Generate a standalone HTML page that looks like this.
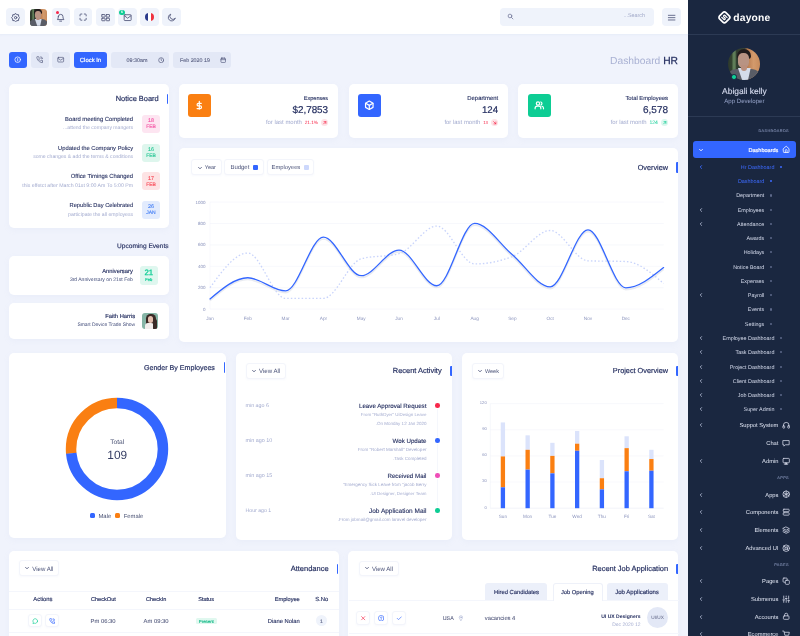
<!DOCTYPE html>
<html lang="en">
<head>
<meta charset="utf-8">
<title>Dayone - HR Dashboard</title>
<style>
*{box-sizing:border-box;margin:0;padding:0}
html,body{width:800px;height:636px;overflow:hidden;background:#f0f3fc;font-family:"Liberation Sans",sans-serif;color:#263061;text-rendering:geometricPrecision}
.abs,i,.t,svg{position:absolute}
i{display:block}
#app{position:relative;width:800px;height:636px;overflow:hidden}
.card{position:absolute;background:#fff;border-radius:5px;box-shadow:0 2px 6px rgba(160,175,220,.08)}
.hbtn{position:absolute;top:8px;width:18.5px;height:18px;border-radius:4px;background:#eff3fb}
.hbtn svg{left:4.6px;top:4.6px;width:9.3px;height:9.3px;stroke:#555b7e;fill:none;stroke-width:2.3;stroke-linecap:round;stroke-linejoin:round}
.tbtn{position:absolute;top:51.8px;height:16.5px;border-radius:3px;background:#e3e8f6}
.tbtn svg{width:7.4px;height:7.4px;stroke:#555b7e;fill:none;stroke-width:2.2;stroke-linecap:round;stroke-linejoin:round}
.t{white-space:nowrap;line-height:1}
.bar{position:absolute;width:1.7px;height:10.5px;background:#3366ff;border-radius:1px 0 0 1px}
.ico{width:8.4px;height:8.4px;fill:none;stroke:#d6dbea;stroke-width:2.2;stroke-linecap:round;stroke-linejoin:round}
.ob{position:absolute;background:#fff;border:.5px solid #f3f5fb;border-radius:3px;box-shadow:0 1px 2px rgba(160,175,220,.07)}
.chv{width:4px;height:4px;fill:none;stroke-width:2.3;stroke-linecap:round;stroke-linejoin:round}
.hl{position:absolute;height:.5px;background:#f4f6fc}
</style>
</head>
<body>
<div id="app">
<!-- HEADER -->
<div class="abs" id="header" style="left:0;top:0;width:688px;height:33.8px;background:#fff;box-shadow:0 1px 2px rgba(200,210,235,.25)">
<div class="hbtn" style="left:6px"><svg viewBox="0 0 24 24" style="stroke-width:2.5"><circle cx="12" cy="12" r="3"/><path d="M12.0 1.4L15.2 4.2L19.5 4.5L19.8 8.8L22.6 12.0L19.8 15.2L19.5 19.5L15.2 19.8L12.0 22.6L8.8 19.8L4.5 19.5L4.2 15.2L1.4 12.0L4.2 8.8L4.5 4.5L8.8 4.2z"/></svg></div>
<div class="abs" style="left:29.7px;top:8.5px;width:17px;height:17px;border-radius:3.5px;overflow:hidden;background:linear-gradient(90deg,#2c382d 0%,#33422f 12%,#5f7d58 16%,#5f7d58 22%,#2e3a2d 27%,#3a4436 52%,#b97c50 60%,#d39a6c 80%,#c78b5c 100%)">
<i style="left:4.46px;top:0.43px;width:7.65px;height:5.31px;border-radius:3.72px 3.72px 1.59px 1.59px;background:#211b1c"></i>
<i style="left:5.31px;top:2.66px;width:5.95px;height:7.97px;border-radius:2.66px 2.66px 2.97px 2.97px;background:#b89383"></i>
<i style="left:-1.06px;top:10.94px;width:19.12px;height:7.44px;border-radius:5.84px 5.84px 0 0;background:#595c66"></i>
<i style="left:5.1px;top:10.31px;width:6.91px;height:6.91px;background:#d5dcea;clip-path:polygon(0 0,100% 0,78% 100%,35% 100%)"></i>
<i style="left:6.59px;top:9.03px;width:3.51px;height:2.92px;border-radius:0 0 1.59px 1.59px;background:#b98f7e"></i>
</div>
<div class="hbtn" style="left:51.8px"><svg viewBox="0 0 24 24"><path d="M6 9.5a6 6 0 0 1 12 0c0 5.5 2.5 7.5 2.5 7.5h-17S6 15 6 9.5z"/><path d="M9.5 21h5"/></svg><i style="left:4.3px;top:2.6px;width:3.4px;height:3.4px;border-radius:50%;background:#f7284a"></i></div>
<div class="hbtn" style="left:73.8px"><svg viewBox="0 0 24 24" style="stroke-width:2.6;left:5.2px;top:5.3px;width:8.2px;height:8.2px"><path d="M3 8.5V5.5a2.5 2.5 0 0 1 2.5-2.5h3M15.5 3h3a2.5 2.5 0 0 1 2.5 2.5v3M21 15.5v3a2.5 2.5 0 0 1-2.5 2.5h-3M8.5 21h-3A2.5 2.5 0 0 1 3 18.5v-3"/></svg></div>
<div class="hbtn" style="left:96px"><svg viewBox="0 0 24 24"><rect x="2" y="4" width="8.5" height="6.5" rx="1"/><rect x="13.5" y="4" width="8.5" height="6.5" rx="1"/><rect x="2" y="13.5" width="8.5" height="6.5" rx="1"/><rect x="13.5" y="13.5" width="8.5" height="6.5" rx="1"/></svg></div>
<div class="hbtn" style="left:118px"><svg viewBox="0 0 24 24" style="left:5.2px;top:5.4px"><rect x="3" y="4.5" width="18" height="15" rx="2"/><path d="M3.5 7l8.5 6.5L20.5 7"/></svg><i style="left:1.4px;top:2px;width:5.4px;height:5.4px;border-radius:50%;background:#0dcd94"></i><span class="t" style="left:3.1px;top:2.9px;font-size:3.6px;color:#fff;font-weight:bold">6</span></div>
<div class="hbtn" style="left:140px"><i style="left:5.1px;top:4.7px;width:8.8px;height:8.8px;border-radius:50%;background:linear-gradient(90deg,#2a3a8c 0 36%,#fff 36% 62%,#ef3340 62% 100%)"></i></div>
<div class="hbtn" style="left:162.2px"><svg viewBox="0 0 24 24"><path d="M21 14.2A9 9 0 1 1 9.8 3a7 7 0 0 0 11.2 11.2z"/></svg></div>
<div class="abs" style="left:500px;top:8px;width:153.5px;height:18px;border-radius:4px;background:#eff3fb"><svg viewBox="0 0 24 24" style="left:7px;top:5.4px;width:6.8px;height:6.8px;stroke:#6d7396;fill:none;stroke-width:2.6;stroke-linecap:round"><circle cx="10.5" cy="10.5" r="6.5"/><path d="M15.5 15.5L21 21"/></svg><span class="t" style="right:8.5px;top:6.3px;font-size:5.4px;color:#a0a8c8">...Search</span></div>
<div class="hbtn" style="left:662.3px"><svg viewBox="0 0 24 24" style="stroke-width:2.2"><path d="M3.5 6h17M3.5 12h17M3.5 18h17"/></svg></div>
</div>
<!-- TITLE ROW -->
<div class="tbtn" style="left:9px;width:18px;background:#3366ff"><svg viewBox="0 0 24 24" style="left:5.3px;top:4.6px;stroke:#fff;stroke-width:2.4"><circle cx="12" cy="12" r="9"/><path d="M12 11v5M12 8v.2"/></svg></div>
<div class="tbtn" style="left:30.8px;width:18px"><svg viewBox="0 0 24 24" style="left:5.3px;top:4.6px"><path d="M22 16.5v3a2 2 0 0 1-2.2 2 19 19 0 0 1-8.3-3 19 19 0 0 1-6-6A19 19 0 0 1 2.6 4.2 2 2 0 0 1 4.6 2h3a2 2 0 0 1 2 1.7c.1 1 .4 1.9.7 2.8a2 2 0 0 1-.5 2.1L8.5 9.9a16 16 0 0 0 6 6l1.3-1.3a2 2 0 0 1 2.1-.4c.9.3 1.8.6 2.8.7a2 2 0 0 1 1.3 1.6z"/><path d="M15.5 2.5a6.5 6.5 0 0 1 6 6M15.5 6.5a3 3 0 0 1 2.5 2.5"/></svg></div>
<div class="tbtn" style="left:52.2px;width:18px"><svg viewBox="0 0 24 24" style="left:5.3px;top:4.6px"><rect x="2.5" y="4.5" width="19" height="15" rx="2.5"/><path d="M3 7.5l9 6 9-6"/></svg></div>
<div class="tbtn" style="left:74px;width:33px;background:#3366ff"></div>
<span class="t" style="top:59px;font-size:5.9px;color:#fff;-webkit-text-stroke:0.2px #fff;left:-9.5px;width:200px;text-align:center;">Clock In</span>
<div class="tbtn" style="left:110.8px;width:57.8px"><svg viewBox="0 0 24 24" style="left:47px;top:5.1px;width:6.4px;height:6.4px;stroke-width:2.5"><circle cx="12" cy="12" r="9.5"/><path d="M12 6.5V12l3.5 3.5"/></svg></div>
<span class="t" style="top:59px;font-size:5.4px;color:#555b7e;-webkit-text-stroke:0.08px #555b7e;left:126.6px;">09:30am</span>
<div class="tbtn" style="left:173px;width:57.9px"><svg viewBox="0 0 24 24" style="left:47px;top:5px;width:6.4px;height:6.4px;stroke-width:2.5"><rect x="3.5" y="4.5" width="17" height="16" rx="2.5"/><path d="M3.5 10h17M8 2.5v4M16 2.5v4"/></svg></div>
<span class="t" style="top:59px;font-size:5.34px;color:#555b7e;-webkit-text-stroke:0.08px #555b7e;left:180px;">Feb 2020 19</span>
<span class="t" style="top:57px;font-size:10.28px;color:#a9b1d3;right:122px;text-align:right;">Dashboard <span style="color:#263061;-webkit-text-stroke:.25px #263061">HR</span></span>
<!-- SIDEBAR -->
<div class="abs" id="side" style="left:688px;top:0;width:112px;height:636px;background:#1a2740"></div>
<svg viewBox="0 0 28 28" style="left:717.3px;top:10.1px;width:14.8px;height:14.8px;fill:none;stroke:#fff;stroke-linecap:round;stroke-linejoin:round"><g transform="rotate(45 14 14)"><rect x="5.6" y="5.6" width="16.8" height="16.8" rx="4" stroke-width="3.3"/><path d="M17.8 10.6h-5.4a1.7 1.7 0 0 0 0 3.4h3.2a1.7 1.7 0 0 1 0 3.4h-5.4" stroke-width="2.2"/></g></svg>
<span class="t" style="top:14px;font-size:10.28px;color:#fff;font-weight:bold;letter-spacing:0.2px;left:733.3px;">dayone</span>
<i style="left:688px;top:34px;width:112px;height:.6px;background:#2c3a54"></i>
<div class="abs" style="left:728.2px;top:48.2px;width:32px;height:32px;border-radius:50%;overflow:hidden;background:linear-gradient(90deg,#2c382d 0%,#33422f 12%,#5f7d58 16%,#5f7d58 22%,#2e3a2d 27%,#3a4436 52%,#b97c50 60%,#d39a6c 80%,#c78b5c 100%)">
<i style="left:8.4px;top:0.8px;width:14.4px;height:10px;border-radius:7px 7px 3px 3px;background:#211b1c"></i>
<i style="left:10px;top:5px;width:11.2px;height:15px;border-radius:5px 5px 5.6px 5.6px;background:#b89383"></i>
<i style="left:-2px;top:20.6px;width:36px;height:14px;border-radius:11px 11px 0 0;background:#595c66"></i>
<i style="left:9.6px;top:19.4px;width:13px;height:13px;background:#d5dcea;clip-path:polygon(0 0,100% 0,78% 100%,35% 100%)"></i>
<i style="left:12.4px;top:17px;width:6.6px;height:5.5px;border-radius:0 0 3px 3px;background:#b98f7e"></i>
</div>
<i style="left:731.1px;top:74.2px;width:5.6px;height:5.6px;border-radius:50%;background:#10cf96;border:.4px solid #1a2740"></i>
<span class="t" style="top:87px;font-size:8.45px;color:#d3d9ec;-webkit-text-stroke:0.15px #d3d9ec;left:644.4px;width:200px;text-align:center;">Abigali kelly</span>
<span class="t" style="top:99px;font-size:6.08px;color:#97a4ca;left:644.4px;width:200px;text-align:center;">App Developer</span>
<i style="left:688px;top:116.2px;width:112px;height:.6px;background:#2c3a54"></i>
<span class="t" style="top:130px;font-size:3.8px;color:#7480a3;-webkit-text-stroke:0.15px #7480a3;letter-spacing:0.4px;right:11px;text-align:right;">DASHBOARDS</span>
<div class="abs" style="left:693px;top:140.7px;width:102.6px;height:17.6px;border-radius:3px;background:#3366ff"></div>
<svg class="chv" viewBox="0 0 10 10" style="left:699px;top:147.5px;stroke:#fff"><path d="M1.5 3.5L5 7l3.5-3.5"/></svg>
<span class="t" style="top:149px;font-size:5.56px;color:#fff;-webkit-text-stroke:0.2px #fff;right:21.6px;text-align:right;">Dashboards</span>
<svg class="ico" viewBox="0 0 24 24" style="left:782px;top:145.2px;stroke:#fff"><path d="M4 10.5L12 3.5l8 7V20a1.5 1.5 0 0 1-1.5 1.5h-13A1.5 1.5 0 0 1 4 20z"/><path d="M9.5 21v-5.5a2.5 2.5 0 0 1 5 0V21"/></svg>
<span class="t" style="top:166px;font-size:5.4px;color:#3d6bff;right:25.6px;text-align:right;">Hr Dashboard</span>
<i style="left:779.6px;top:165.9px;width:2.2px;height:2.2px;border-radius:50%;background:#3d6bff"></i>
<svg class="chv" viewBox="0 0 10 10" style="left:699px;top:165px;stroke:#3d6bff"><path d="M6.5 1.5L3 5l3.5 3.5"/></svg>
<span class="t" style="top:180px;font-size:5.4px;color:#3d6bff;right:35.7px;text-align:right;">Dashboard</span>
<i style="left:769.5px;top:180px;width:2.2px;height:2.2px;border-radius:50%;background:#3d6bff"></i>
<span class="t" style="top:194px;font-size:5.4px;color:#d5dbec;right:35.7px;text-align:right;">Department</span>
<i style="left:769.5px;top:194.4px;width:2.2px;height:2.2px;border-radius:50%;background:#5c6889"></i>
<span class="t" style="top:209px;font-size:5.4px;color:#d5dbec;right:35.7px;text-align:right;">Employees</span>
<i style="left:769.5px;top:208.6px;width:2.2px;height:2.2px;border-radius:50%;background:#5c6889"></i>
<svg class="chv" viewBox="0 0 10 10" style="left:699px;top:207.7px;stroke:#aab3cc"><path d="M6.5 1.5L3 5l3.5 3.5"/></svg>
<span class="t" style="top:223px;font-size:5.4px;color:#d5dbec;right:35.7px;text-align:right;">Attendance</span>
<i style="left:769.5px;top:222.8px;width:2.2px;height:2.2px;border-radius:50%;background:#5c6889"></i>
<svg class="chv" viewBox="0 0 10 10" style="left:699px;top:221.9px;stroke:#aab3cc"><path d="M6.5 1.5L3 5l3.5 3.5"/></svg>
<span class="t" style="top:237px;font-size:5.4px;color:#d5dbec;right:35.7px;text-align:right;">Awards</span>
<i style="left:769.5px;top:237px;width:2.2px;height:2.2px;border-radius:50%;background:#5c6889"></i>
<span class="t" style="top:251px;font-size:5.4px;color:#d5dbec;right:35.7px;text-align:right;">Holidays</span>
<i style="left:769.5px;top:251.3px;width:2.2px;height:2.2px;border-radius:50%;background:#5c6889"></i>
<span class="t" style="top:266px;font-size:5.4px;color:#d5dbec;right:35.7px;text-align:right;">Notice Board</span>
<i style="left:769.5px;top:265.6px;width:2.2px;height:2.2px;border-radius:50%;background:#5c6889"></i>
<span class="t" style="top:280px;font-size:5.4px;color:#d5dbec;right:35.7px;text-align:right;">Expenses</span>
<i style="left:769.5px;top:279.9px;width:2.2px;height:2.2px;border-radius:50%;background:#5c6889"></i>
<span class="t" style="top:294px;font-size:5.4px;color:#d5dbec;right:35.7px;text-align:right;">Payroll</span>
<i style="left:769.5px;top:294.1px;width:2.2px;height:2.2px;border-radius:50%;background:#5c6889"></i>
<svg class="chv" viewBox="0 0 10 10" style="left:699px;top:293.2px;stroke:#aab3cc"><path d="M6.5 1.5L3 5l3.5 3.5"/></svg>
<span class="t" style="top:308px;font-size:5.4px;color:#d5dbec;right:35.7px;text-align:right;">Events</span>
<i style="left:769.5px;top:308.4px;width:2.2px;height:2.2px;border-radius:50%;background:#5c6889"></i>
<span class="t" style="top:323px;font-size:5.4px;color:#d5dbec;right:35.7px;text-align:right;">Settings</span>
<i style="left:769.5px;top:322.6px;width:2.2px;height:2.2px;border-radius:50%;background:#5c6889"></i>
<span class="t" style="top:337px;font-size:5.4px;color:#d5dbec;right:25.6px;text-align:right;">Employee Dashboard</span>
<i style="left:779.6px;top:337px;width:2.2px;height:2.2px;border-radius:50%;background:#5c6889"></i>
<svg class="chv" viewBox="0 0 10 10" style="left:699px;top:336.1px;stroke:#aab3cc"><path d="M6.5 1.5L3 5l3.5 3.5"/></svg>
<span class="t" style="top:351px;font-size:5.4px;color:#d5dbec;right:25.6px;text-align:right;">Task Dashboard</span>
<i style="left:779.6px;top:351.2px;width:2.2px;height:2.2px;border-radius:50%;background:#5c6889"></i>
<svg class="chv" viewBox="0 0 10 10" style="left:699px;top:350.3px;stroke:#aab3cc"><path d="M6.5 1.5L3 5l3.5 3.5"/></svg>
<span class="t" style="top:366px;font-size:5.4px;color:#d5dbec;right:25.6px;text-align:right;">Project Dashboard</span>
<i style="left:779.6px;top:365.5px;width:2.2px;height:2.2px;border-radius:50%;background:#5c6889"></i>
<svg class="chv" viewBox="0 0 10 10" style="left:699px;top:364.6px;stroke:#aab3cc"><path d="M6.5 1.5L3 5l3.5 3.5"/></svg>
<span class="t" style="top:380px;font-size:5.4px;color:#d5dbec;right:25.6px;text-align:right;">Client Dashboard</span>
<i style="left:779.6px;top:379.8px;width:2.2px;height:2.2px;border-radius:50%;background:#5c6889"></i>
<svg class="chv" viewBox="0 0 10 10" style="left:699px;top:378.9px;stroke:#aab3cc"><path d="M6.5 1.5L3 5l3.5 3.5"/></svg>
<span class="t" style="top:394px;font-size:5.4px;color:#d5dbec;right:25.6px;text-align:right;">Job Dashboard</span>
<i style="left:779.6px;top:393.9px;width:2.2px;height:2.2px;border-radius:50%;background:#5c6889"></i>
<svg class="chv" viewBox="0 0 10 10" style="left:699px;top:393px;stroke:#aab3cc"><path d="M6.5 1.5L3 5l3.5 3.5"/></svg>
<span class="t" style="top:408px;font-size:5.4px;color:#d5dbec;right:25.6px;text-align:right;">Super Admin</span>
<i style="left:779.6px;top:408.1px;width:2.2px;height:2.2px;border-radius:50%;background:#5c6889"></i>
<svg class="chv" viewBox="0 0 10 10" style="left:699px;top:407.2px;stroke:#aab3cc"><path d="M6.5 1.5L3 5l3.5 3.5"/></svg>
<span class="t" style="top:477px;font-size:3.8px;color:#7480a3;-webkit-text-stroke:0.15px #7480a3;letter-spacing:0.4px;right:11px;text-align:right;">APPS</span>
<span class="t" style="top:564px;font-size:3.8px;color:#7480a3;-webkit-text-stroke:0.15px #7480a3;letter-spacing:0.4px;right:11px;text-align:right;">PAGES</span>
<span class="t" style="top:424px;font-size:5.75px;color:#e1e6f3;right:21.6px;text-align:right;">Suppot System</span>
<svg class="ico" viewBox="0 0 24 24" style="left:782px;top:421.1px"><path d="M4 14v-2a8 8 0 0 1 16 0v2"/><rect x="2.5" y="13.5" width="5" height="7" rx="1.5"/><rect x="16.5" y="13.5" width="5" height="7" rx="1.5"/></svg>
<svg class="chv" viewBox="0 0 10 10" style="left:699px;top:423.3px;stroke:#aab3cc"><path d="M6.5 1.5L3 5l3.5 3.5"/></svg>
<span class="t" style="top:442px;font-size:5.75px;color:#e1e6f3;right:21.6px;text-align:right;">Chat</span>
<svg class="ico" viewBox="0 0 24 24" style="left:782px;top:438.6px"><path d="M3.5 4.5h17v12h-11l-4 4v-4h-2z"/></svg>
<span class="t" style="top:460px;font-size:5.75px;color:#e1e6f3;right:21.6px;text-align:right;">Admin</span>
<svg class="ico" viewBox="0 0 24 24" style="left:782px;top:456.5px"><rect x="3" y="4" width="18" height="12.5" rx="2"/><path d="M8 21h8l-4-4.5z" fill="#dfe4f2"/></svg>
<svg class="chv" viewBox="0 0 10 10" style="left:699px;top:458.7px;stroke:#aab3cc"><path d="M6.5 1.5L3 5l3.5 3.5"/></svg>
<span class="t" style="top:494px;font-size:5.75px;color:#e1e6f3;right:21.6px;text-align:right;">Apps</span>
<svg class="ico" viewBox="0 0 24 24" style="left:782px;top:490.4px"><circle cx="12" cy="12" r="9.3"/><path d="M12 2.7v18.6M4 7.3l16 9.4M4 16.7l16-9.4"/></svg>
<svg class="chv" viewBox="0 0 10 10" style="left:699px;top:492.6px;stroke:#aab3cc"><path d="M6.5 1.5L3 5l3.5 3.5"/></svg>
<span class="t" style="top:511px;font-size:5.75px;color:#e1e6f3;right:21.6px;text-align:right;">Components</span>
<svg class="ico" viewBox="0 0 24 24" style="left:782px;top:508.1px"><rect x="3.5" y="3.5" width="17" height="7" rx="2"/><rect x="3.5" y="13.5" width="17" height="7" rx="2"/></svg>
<svg class="chv" viewBox="0 0 10 10" style="left:699px;top:510.3px;stroke:#aab3cc"><path d="M6.5 1.5L3 5l3.5 3.5"/></svg>
<span class="t" style="top:529px;font-size:5.75px;color:#e1e6f3;right:21.6px;text-align:right;">Elements</span>
<svg class="ico" viewBox="0 0 24 24" style="left:782px;top:525.5px"><path d="M12 3l9 4.5-9 4.5-9-4.5z"/><path d="M3 12l9 4.5 9-4.5M3 16.5L12 21l9-4.5"/></svg>
<svg class="chv" viewBox="0 0 10 10" style="left:699px;top:527.7px;stroke:#aab3cc"><path d="M6.5 1.5L3 5l3.5 3.5"/></svg>
<span class="t" style="top:547px;font-size:5.75px;color:#e1e6f3;right:21.6px;text-align:right;">Advanced UI</span>
<svg class="ico" viewBox="0 0 24 24" style="left:782px;top:543.5px"><circle cx="12" cy="12" r="9.3"/><circle cx="12" cy="12" r="3.8"/><path d="M5.5 5.5l3.8 3.8M14.7 14.7l3.8 3.8M18.5 5.5l-3.8 3.8M9.3 14.7l-3.8 3.8"/></svg>
<svg class="chv" viewBox="0 0 10 10" style="left:699px;top:545.7px;stroke:#aab3cc"><path d="M6.5 1.5L3 5l3.5 3.5"/></svg>
<span class="t" style="top:580px;font-size:5.75px;color:#e1e6f3;right:21.6px;text-align:right;">Pages</span>
<svg class="ico" viewBox="0 0 24 24" style="left:782px;top:577px"><rect x="3" y="3" width="12" height="12" rx="2.5"/><rect x="9.5" y="9.5" width="11.5" height="11.5" rx="2.5" fill="#1a2740"/></svg>
<svg class="chv" viewBox="0 0 10 10" style="left:699px;top:579.2px;stroke:#aab3cc"><path d="M6.5 1.5L3 5l3.5 3.5"/></svg>
<span class="t" style="top:598px;font-size:5.75px;color:#e1e6f3;right:21.6px;text-align:right;">Submenus</span>
<svg class="ico" viewBox="0 0 24 24" style="left:782px;top:594.7px"><path d="M5 3v7M5 14v7M12 3v3M12 10v11M19 3v9M19 16v5M2.5 14h5M9.5 10h5M16.5 16h5"/></svg>
<svg class="chv" viewBox="0 0 10 10" style="left:699px;top:596.9px;stroke:#aab3cc"><path d="M6.5 1.5L3 5l3.5 3.5"/></svg>
<span class="t" style="top:616px;font-size:5.75px;color:#e1e6f3;right:21.6px;text-align:right;">Accounts</span>
<svg class="ico" viewBox="0 0 24 24" style="left:782px;top:612.4px"><rect x="4" y="11" width="16" height="10" rx="2.5"/><path d="M7.5 11V8a4.5 4.5 0 0 1 9 0v3"/></svg>
<svg class="chv" viewBox="0 0 10 10" style="left:699px;top:614.6px;stroke:#aab3cc"><path d="M6.5 1.5L3 5l3.5 3.5"/></svg>
<span class="t" style="top:633px;font-size:5.75px;color:#e1e6f3;right:21.6px;text-align:right;">Ecommerce</span>
<svg class="ico" viewBox="0 0 24 24" style="left:782px;top:629.8px"><path d="M2 3h3.5l2.5 12h11l2-8.5H7"/><circle cx="9.5" cy="19.5" r="1.5"/><circle cx="17.5" cy="19.5" r="1.5"/></svg>
<svg class="chv" viewBox="0 0 10 10" style="left:699px;top:632px;stroke:#aab3cc"><path d="M6.5 1.5L3 5l3.5 3.5"/></svg>
<!-- NOTICE BOARD -->
<div class="card" id="notice" style="left:9px;top:84px;width:159.5px;height:143.5px"></div>
<span class="t" style="top:95px;font-size:7.44px;color:#263061;-webkit-text-stroke:0.18px #263061;right:641.3px;text-align:right;">Notice Board</span>
<i class="bar" style="left:166.8px;top:93.5px"></i>
<i style="left:142.1px;top:114.8px;width:17.8px;height:18.1px;border-radius:3px;background:#fde5f1"></i>
<span class="t" style="top:119px;font-size:5.3px;color:#f34ea1;-webkit-text-stroke:0.1px #f34ea1;left:51px;width:200px;text-align:center;">18</span>
<span class="t" style="top:125px;font-size:5px;color:#f34ea1;-webkit-text-stroke:0.1px #f34ea1;left:51px;width:200px;text-align:center;">FEB</span>
<span class="t" style="top:118px;font-size:5.87px;color:#263061;-webkit-text-stroke:0.1px #263061;right:666.9px;text-align:right;">Board meeting Completed</span>
<span class="t" style="top:126px;font-size:5.09px;color:#a3abcf;right:666.9px;text-align:right;">...attend the company mangers</span>
<i style="left:142.1px;top:143.5px;width:17.8px;height:18.1px;border-radius:3px;background:#def6ed"></i>
<span class="t" style="top:148px;font-size:5.3px;color:#1fc490;-webkit-text-stroke:0.1px #1fc490;left:51px;width:200px;text-align:center;">16</span>
<span class="t" style="top:154px;font-size:5px;color:#1fc490;-webkit-text-stroke:0.1px #1fc490;left:51px;width:200px;text-align:center;">FEB</span>
<span class="t" style="top:147px;font-size:5.81px;color:#263061;-webkit-text-stroke:0.1px #263061;right:666.9px;text-align:right;">Updated the Company Policy</span>
<span class="t" style="top:155px;font-size:5.11px;color:#a3abcf;right:666.9px;text-align:right;">some changes &amp; add the terms &amp; conditions</span>
<i style="left:142.1px;top:172.2px;width:17.8px;height:18.1px;border-radius:3px;background:#fde3e4"></i>
<span class="t" style="top:177px;font-size:5.3px;color:#f7424f;-webkit-text-stroke:0.1px #f7424f;left:51px;width:200px;text-align:center;">17</span>
<span class="t" style="top:183px;font-size:5px;color:#f7424f;-webkit-text-stroke:0.1px #f7424f;left:51px;width:200px;text-align:center;">FEB</span>
<span class="t" style="top:175px;font-size:5.86px;color:#263061;-webkit-text-stroke:0.1px #263061;right:666.9px;text-align:right;">Office Timings Changed</span>
<span class="t" style="top:184px;font-size:5.21px;color:#a3abcf;right:666.9px;text-align:right;">this effetct after March 01st 9:00 Am To 5:00 Pm</span>
<i style="left:142.1px;top:200.9px;width:17.8px;height:18.1px;border-radius:3px;background:#e2ebfd"></i>
<span class="t" style="top:205px;font-size:5.3px;color:#3b78f5;-webkit-text-stroke:0.1px #3b78f5;left:51px;width:200px;text-align:center;">26</span>
<span class="t" style="top:211px;font-size:5px;color:#3b78f5;-webkit-text-stroke:0.1px #3b78f5;left:51px;width:200px;text-align:center;">JAN</span>
<span class="t" style="top:204px;font-size:5.73px;color:#263061;-webkit-text-stroke:0.1px #263061;right:666.9px;text-align:right;">Republic Day Celebrated</span>
<span class="t" style="top:213px;font-size:5.17px;color:#a3abcf;right:666.9px;text-align:right;">participate the all employess</span>
<!-- UPCOMING EVENTS -->
<span class="t" style="top:244px;font-size:6.57px;color:#263061;-webkit-text-stroke:0.15px #263061;right:631.5px;text-align:right;">Upcoming Events</span>
<div class="card" id="ev1" style="left:9px;top:256px;width:159.5px;height:38.5px"></div>
<i style="left:139.6px;top:265.8px;width:18.4px;height:18.9px;border-radius:3px;background:#dff7ef"></i>
<span class="t" style="top:269px;font-size:7.8px;color:#0dcd94;-webkit-text-stroke:0.25px #0dcd94;left:48.8px;width:200px;text-align:center;">21</span>
<span class="t" style="top:278px;font-size:4.1px;color:#0dcd94;-webkit-text-stroke:0.2px #0dcd94;left:48.8px;width:200px;text-align:center;">Feb</span>
<span class="t" style="top:270px;font-size:5.81px;color:#263061;-webkit-text-stroke:0.15px #263061;right:667.2px;text-align:right;">Anniversary</span>
<span class="t" style="top:278px;font-size:5.04px;color:#3f4a78;right:667.2px;text-align:right;">3rd Anniversary on 21st Feb</span>
<div class="card" id="ev2" style="left:9px;top:302.6px;width:159.5px;height:36.5px"></div>
<div class="abs" style="left:142.1px;top:312.6px;width:16.4px;height:16.8px;border-radius:3px;overflow:hidden;background:#86b5a6">
<i style="left:4px;top:1.5px;width:9.5px;height:14px;border-radius:4.5px 4.5px 2px 2px;background:#3a2a26"></i>
<i style="left:5.8px;top:3.2px;width:5.6px;height:6.8px;border-radius:2.8px;background:#e3bfae"></i>
<i style="left:2.5px;top:10.5px;width:9px;height:7px;border-radius:3px 3px 0 0;background:#f2eeec"></i>
<i style="left:10.5px;top:6px;width:4px;height:11px;border-radius:2px;background:#3a2a26"></i>
</div>
<span class="t" style="top:315px;font-size:5.81px;color:#263061;-webkit-text-stroke:0.15px #263061;right:664.9px;text-align:right;">Faith Harris</span>
<span class="t" style="top:323px;font-size:4.99px;color:#3f4a78;right:664.9px;text-align:right;">Smart Device Trade Show</span>
<!-- STATS -->
<div class="card" id="st1" style="left:178.5px;top:83.5px;width:159.7px;height:54px"></div>
<i style="left:188px;top:94px;width:23px;height:22.5px;border-radius:3px;background:#fa7f12"></i>
<svg viewBox="0 0 24 24" style="left:194.2px;top:99.9px;width:10.6px;height:10.6px;fill:none;stroke:#fff;stroke-width:2.7;stroke-linecap:round;stroke-linejoin:round"><path d="M12 3v18M16.5 7.5h-6.5a3 3 0 0 0 0 6h4a3 3 0 0 1 0 6H7" /></svg>
<span class="t" style="top:97px;font-size:5.56px;color:#263061;-webkit-text-stroke:0.12px #263061;right:471.9px;text-align:right;">Expenses</span>
<span class="t" style="top:106px;font-size:9.9px;color:#263061;-webkit-text-stroke:0.2px #263061;right:471.9px;text-align:right;">$2,7853</span>
<i style="left:320.6px;top:118.9px;width:7.5px;height:7.5px;border-radius:50%;background:#fde3e7"></i>
<svg viewBox="0 0 10 10" style="left:320.6px;top:118.9px;width:7.5px;height:7.5px;fill:none;stroke:#f7284a;stroke-width:.9;stroke-linecap:round;stroke-linejoin:round"><path d="M3.5 6.5L6.5 3.5M4 3.5h2.5V6"/></svg>
<span class="t" style="top:121px;font-size:4.69px;color:#f7284a;right:482px;text-align:right;">21.1%</span>
<span class="t" style="top:121px;font-size:5.94px;color:#a3abcf;right:498.1px;text-align:right;">for last month</span>
<div class="card" id="st2" style="left:348.5px;top:83.5px;width:159.7px;height:54px"></div>
<i style="left:358px;top:94px;width:23px;height:22.5px;border-radius:3px;background:#3366ff"></i>
<svg viewBox="0 0 24 24" style="left:364.2px;top:99.9px;width:10.6px;height:10.6px;fill:none;stroke:#fff;stroke-width:2.7;stroke-linecap:round;stroke-linejoin:round"><path d="M12 2.5l8.5 4.8v9.4L12 21.5l-8.5-4.8V7.3z"/><path d="M3.8 7.5L12 12.2l8.2-4.7M12 21.3v-9.1"/></svg>
<span class="t" style="top:97px;font-size:5.9px;color:#263061;-webkit-text-stroke:0.12px #263061;right:301.9px;text-align:right;">Department</span>
<span class="t" style="top:106px;font-size:9.71px;color:#263061;-webkit-text-stroke:0.2px #263061;right:301.9px;text-align:right;">124</span>
<i style="left:490.6px;top:118.9px;width:7.5px;height:7.5px;border-radius:50%;background:#fde3e7"></i>
<svg viewBox="0 0 10 10" style="left:490.6px;top:118.9px;width:7.5px;height:7.5px;fill:none;stroke:#f7284a;stroke-width:.9;stroke-linecap:round;stroke-linejoin:round"><path d="M3.5 3.5L6.5 6.5M4 6.5h2.5V4"/></svg>
<span class="t" style="top:121px;font-size:4.32px;color:#f7284a;right:312px;text-align:right;">13</span>
<span class="t" style="top:121px;font-size:5.94px;color:#a3abcf;right:319.6px;text-align:right;">for last month</span>
<div class="card" id="st3" style="left:518.4px;top:83.5px;width:159.7px;height:54px"></div>
<i style="left:527.9px;top:94px;width:23px;height:22.5px;border-radius:3px;background:#0dcd94"></i>
<svg viewBox="0 0 24 24" style="left:534.1px;top:99.9px;width:10.6px;height:10.6px;fill:none;stroke:#fff;stroke-width:2.7;stroke-linecap:round;stroke-linejoin:round"><circle cx="9" cy="8" r="3.7"/><path d="M2.5 20v-1.5a4.5 4.5 0 0 1 4.5-4.5h4a4.5 4.5 0 0 1 4.5 4.5V20"/><path d="M15.5 4.5a3.7 3.7 0 0 1 0 7M18 14.2a4.5 4.5 0 0 1 3.5 4.3V20"/></svg>
<span class="t" style="top:97px;font-size:5.81px;color:#263061;-webkit-text-stroke:0.12px #263061;right:132px;text-align:right;">Total Employees</span>
<span class="t" style="top:106px;font-size:9.99px;color:#263061;-webkit-text-stroke:0.2px #263061;right:132px;text-align:right;">6,578</span>
<i style="left:660.5px;top:118.9px;width:7.5px;height:7.5px;border-radius:50%;background:#dcf7ee"></i>
<svg viewBox="0 0 10 10" style="left:660.5px;top:118.9px;width:7.5px;height:7.5px;fill:none;stroke:#0dcd94;stroke-width:.9;stroke-linecap:round;stroke-linejoin:round"><path d="M3.5 6.5L6.5 3.5M4 3.5h2.5V6"/></svg>
<span class="t" style="top:121px;font-size:5.09px;color:#0dcd94;right:142.1px;text-align:right;">124</span>
<span class="t" style="top:121px;font-size:5.94px;color:#a3abcf;right:153.4px;text-align:right;">for last month</span>
<!-- OVERVIEW -->
<div class="card" id="overview" style="left:178.5px;top:148px;width:499.6px;height:194px"></div>
<span class="t" style="top:164px;font-size:7.27px;color:#263061;-webkit-text-stroke:0.18px #263061;right:132px;text-align:right;">Overview</span>
<i class="bar" style="left:676.4px;top:162.3px"></i>
<div class="ob" style="left:191.3px;top:159.2px;width:30.3px;height:16px"></div>
<svg class="chv" viewBox="0 0 10 10" style="left:197.7px;top:165.5px;stroke:#555b7e"><path d="M1.5 3.5L5 7l3.5-3.5"/></svg>
<span class="t" style="top:166px;font-size:5.49px;color:#4a5278;left:204.8px;">Year</span>
<div class="ob" style="left:224.3px;top:159.2px;width:39.5px;height:16px"></div>
<span class="t" style="top:165px;font-size:5.99px;color:#4a5278;left:230.4px;">Budget</span>
<i style="left:253px;top:165.1px;width:4.5px;height:4.5px;border-radius:1px;background:#3366ff"></i>
<div class="ob" style="left:266.5px;top:159.2px;width:47.9px;height:16px"></div>
<span class="t" style="top:166px;font-size:5.8px;color:#4a5278;left:271.6px;">Employees</span>
<i style="left:304.3px;top:165.1px;width:4.5px;height:4.5px;border-radius:1px;background:#cdd8fc"></i>
<svg viewBox="0 0 500 194" style="left:179px;top:148px;width:500px;height:194px;overflow:visible">
<path d="M31 54.1H484.7" stroke="#eef1f8" stroke-width=".5" fill="none"/>
<text x="26.4" y="55.6" font-size="4.5" fill="#8790ba" text-anchor="end">1000</text>
<path d="M31 75.5H484.7" stroke="#eef1f8" stroke-width=".5" fill="none"/>
<text x="26.4" y="77" font-size="4.5" fill="#8790ba" text-anchor="end">800</text>
<path d="M31 96.9H484.7" stroke="#eef1f8" stroke-width=".5" fill="none"/>
<text x="26.4" y="98.4" font-size="4.5" fill="#8790ba" text-anchor="end">600</text>
<path d="M31 118.3H484.7" stroke="#eef1f8" stroke-width=".5" fill="none"/>
<text x="26.4" y="119.8" font-size="4.5" fill="#8790ba" text-anchor="end">400</text>
<path d="M31 139.7H484.7" stroke="#eef1f8" stroke-width=".5" fill="none"/>
<text x="26.4" y="141.2" font-size="4.5" fill="#8790ba" text-anchor="end">200</text>
<path d="M31 161.1H484.7" stroke="#eef1f8" stroke-width=".5" fill="none"/>
<text x="26.4" y="162.6" font-size="4.5" fill="#8790ba" text-anchor="end">0</text>
<text x="31" y="171.9" font-size="4.7" fill="#8b94bd" text-anchor="middle">Jan</text>
<text x="68.8" y="171.9" font-size="4.7" fill="#8b94bd" text-anchor="middle">Feb</text>
<text x="106.6" y="171.9" font-size="4.7" fill="#8b94bd" text-anchor="middle">Mar</text>
<text x="144.4" y="171.9" font-size="4.7" fill="#8b94bd" text-anchor="middle">Apr</text>
<text x="182.2" y="171.9" font-size="4.7" fill="#8b94bd" text-anchor="middle">May</text>
<text x="220" y="171.9" font-size="4.7" fill="#8b94bd" text-anchor="middle">Jun</text>
<text x="257.8" y="171.9" font-size="4.7" fill="#8b94bd" text-anchor="middle">Jul</text>
<text x="295.6" y="171.9" font-size="4.7" fill="#8b94bd" text-anchor="middle">Aug</text>
<text x="333.4" y="171.9" font-size="4.7" fill="#8b94bd" text-anchor="middle">Sep</text>
<text x="371.2" y="171.9" font-size="4.7" fill="#8b94bd" text-anchor="middle">Oct</text>
<text x="409" y="171.9" font-size="4.7" fill="#8b94bd" text-anchor="middle">Nov</text>
<text x="446.8" y="171.9" font-size="4.7" fill="#8b94bd" text-anchor="middle">Dec</text>
<path d="M31 54.1V161.1" stroke="#f1f3f9" stroke-width=".5" fill="none"/>
<path d="M31 139.7C43.6 122.37 56.2 105.03 68.8 105.03C81.4 105.03 94 150.4 106.6 150.4C119.2 150.4 131.8 150.4 144.4 150.4C157 150.4 169.6 114.23 182.2 110.81C194.8 107.39 207.4 109.1 220 105.67C232.6 102.25 245.2 78.07 257.8 78.07C270.4 78.07 283 115.95 295.6 115.95C308.2 115.95 320.8 113.45 333.4 108.46C346 103.46 358.6 82.46 371.2 82.46C383.8 82.46 396.4 112.42 409 112.84C421.6 113.27 434.2 113.06 446.8 113.49C459.4 113.91 472 124.67 484.6 135.42" fill="none" stroke="#c9d4fb" stroke-width="1.350" stroke-dasharray="1.5 2.1"/>
<path d="M31 150.94C43.6 140.34 56.2 129.75 68.8 129.75C81.4 129.75 94 142.91 106.6 142.91C119.2 142.91 131.8 89.2 144.4 89.2C157 89.2 169.6 127.72 182.2 127.72C194.8 127.72 207.4 102.04 220 102.04C232.6 102.04 245.2 137.77 257.8 137.77C270.4 137.77 283 75.39 295.6 75.39C308.2 75.39 320.8 96.17 333.4 106.74C346 117.32 358.6 138.84 371.2 138.84C383.8 138.84 396.4 81.81 409 81.81C421.6 81.81 434.2 139.81 446.8 139.81C459.4 139.81 472 129.7 484.6 119.58" fill="none" stroke="#d7dbe6" stroke-width="1.6" transform="translate(0 1.8)" opacity=".55"/>
<path d="M31 150.94C43.6 140.34 56.2 129.75 68.8 129.75C81.4 129.75 94 142.91 106.6 142.91C119.2 142.91 131.8 89.2 144.4 89.2C157 89.2 169.6 127.72 182.2 127.72C194.8 127.72 207.4 102.04 220 102.04C232.6 102.04 245.2 137.77 257.8 137.77C270.4 137.77 283 75.39 295.6 75.39C308.2 75.39 320.8 96.17 333.4 106.74C346 117.32 358.6 138.84 371.2 138.84C383.8 138.84 396.4 81.81 409 81.81C421.6 81.81 434.2 139.81 446.8 139.81C459.4 139.81 472 129.7 484.6 119.58" fill="none" stroke="#3366ff" stroke-width="1.3" stroke-linecap="round"/>
</svg>
<!-- GENDER -->
<div class="card" id="gender" style="left:9px;top:353px;width:216.5px;height:185.2px"></div>
<span class="t" style="top:365px;font-size:7.1px;color:#263061;-webkit-text-stroke:0.18px #263061;right:585.1px;text-align:right;">Gender By Employees</span>
<i class="bar" style="left:223.8px;top:362.3px"></i>
<svg viewBox="0 0 120 120" style="left:57.2px;top:389.1px;width:120px;height:120px"><g transform="rotate(-90 60 60)" fill="none" stroke-width="10.5"><circle cx="60" cy="60" r="45.95" stroke="#fa7f12" stroke-dasharray="77.11 288.71" stroke-dashoffset="-211.6"/><circle cx="60" cy="60" r="45.95" stroke="#3366ff" stroke-dasharray="211.9 288.71"/></g></svg>
<span class="t" style="top:440px;font-size:6.6px;color:#4a5274;left:17.2px;width:200px;text-align:center;">Total</span>
<span class="t" style="top:450px;font-size:11.87px;color:#353d63;left:17.2px;width:200px;text-align:center;">109</span>
<i style="left:90px;top:513.2px;width:4.9px;height:4.9px;border-radius:1.5px;background:#3366ff"></i>
<span class="t" style="top:515px;font-size:5.95px;color:#4a5274;left:98.4px;">Male</span>
<i style="left:115.4px;top:513.2px;width:4.9px;height:4.9px;border-radius:1.5px;background:#fa7f12"></i>
<span class="t" style="top:515px;font-size:5.85px;color:#4a5274;left:123.8px;">Female</span>
<!-- RECENT ACTIVITY -->
<div class="card" id="activity" style="left:235.5px;top:353px;width:216.5px;height:187px"></div>
<span class="t" style="top:367px;font-size:7.44px;color:#263061;-webkit-text-stroke:0.18px #263061;right:358.4px;text-align:right;">Recent Activity</span>
<i class="bar" style="left:450.3px;top:365.9px"></i>
<div class="ob" style="left:245.5px;top:363.1px;width:40px;height:15.5px"></div>
<svg class="chv" viewBox="0 0 10 10" style="left:251.8px;top:369px;stroke:#555b7e"><path d="M1.5 3.5L5 7l3.5-3.5"/></svg>
<span class="t" style="top:369px;font-size:6.09px;color:#4a5278;left:259px;">View All</span>
<i style="left:437.1px;top:406px;width:.5px;height:105px;background:#f5f7fc"></i>
<i style="left:435px;top:403.4px;width:4.6px;height:4.6px;border-radius:50%;background:#f7284a;box-shadow:0 0 0 1px #fff"></i>
<span class="t" style="top:404px;font-size:6.19px;color:#263061;-webkit-text-stroke:0.12px #263061;right:373.6px;text-align:right;">Leave Approval Request</span>
<span class="t" style="top:413px;font-size:4.41px;color:#a3abcf;right:373.6px;text-align:right;">From "RuthDyer" UiDesign Leave</span>
<span class="t" style="top:422px;font-size:4.5px;color:#a3abcf;right:373.6px;text-align:right;">.On Monday 12 Jan 2020</span>
<span class="t" style="top:404px;font-size:5.35px;color:#a3abcf;left:245.5px;">min ago 6</span>
<i style="left:435px;top:438.4px;width:4.6px;height:4.6px;border-radius:50%;background:#3366ff;box-shadow:0 0 0 1px #fff"></i>
<span class="t" style="top:439px;font-size:6.2px;color:#263061;-webkit-text-stroke:0.12px #263061;right:373.6px;text-align:right;">Wok Update</span>
<span class="t" style="top:448px;font-size:4.52px;color:#a3abcf;right:373.6px;text-align:right;">From "Robert Marshall" Developer</span>
<span class="t" style="top:457px;font-size:4.48px;color:#a3abcf;right:373.6px;text-align:right;">.Task Completed</span>
<span class="t" style="top:439px;font-size:5.42px;color:#a3abcf;left:245.5px;">min ago 10</span>
<i style="left:435px;top:473.4px;width:4.6px;height:4.6px;border-radius:50%;background:#ef4eb8;box-shadow:0 0 0 1px #fff"></i>
<span class="t" style="top:474px;font-size:6.21px;color:#263061;-webkit-text-stroke:0.12px #263061;right:373.6px;text-align:right;">Received Mail</span>
<span class="t" style="top:483px;font-size:4.51px;color:#a3abcf;right:373.6px;text-align:right;">"Emergency Sick Leave from "jacob Berry</span>
<span class="t" style="top:492px;font-size:4.43px;color:#a3abcf;right:373.6px;text-align:right;">.UI Designer, Designer Team</span>
<span class="t" style="top:474px;font-size:5.42px;color:#a3abcf;left:245.5px;">min ago 15</span>
<i style="left:435px;top:508.4px;width:4.6px;height:4.6px;border-radius:50%;background:#0dcd94;box-shadow:0 0 0 1px #fff"></i>
<span class="t" style="top:509px;font-size:6.51px;color:#263061;-webkit-text-stroke:0.12px #263061;right:373.6px;text-align:right;">Job Application Mail</span>
<span class="t" style="top:518px;font-size:4.55px;color:#a3abcf;right:373.6px;text-align:right;">.From jobmail@gmail.com laravel developer</span>
<span class="t" style="top:509px;font-size:5.21px;color:#a3abcf;left:245.5px;">Hour ago 1</span>
<!-- PROJECT OVERVIEW -->
<div class="card" id="project" style="left:461.8px;top:353px;width:216.3px;height:187px"></div>
<span class="t" style="top:367px;font-size:7.3px;color:#263061;-webkit-text-stroke:0.18px #263061;right:132px;text-align:right;">Project Overview</span>
<i class="bar" style="left:676.4px;top:365.9px"></i>
<div class="ob" style="left:472.2px;top:363.1px;width:32.3px;height:15.5px"></div>
<svg class="chv" viewBox="0 0 10 10" style="left:478.1px;top:369px;stroke:#555b7e"><path d="M1.5 3.5L5 7l3.5-3.5"/></svg>
<span class="t" style="top:370px;font-size:5.48px;color:#4a5278;left:485px;">Week</span>
<svg viewBox="0 0 216.5 187" style="left:462px;top:353px;width:216.5px;height:187px">
<path d="M28.3 50.6H201.6" stroke="#f1f3f9" stroke-width=".5" fill="none"/>
<text x="24.7" y="50.9" font-size="4.1" fill="#8790ba" text-anchor="end">120</text>
<path d="M28.3 76.75H201.6" stroke="#f1f3f9" stroke-width=".5" fill="none"/>
<text x="24.7" y="77.05" font-size="4.1" fill="#8790ba" text-anchor="end">90</text>
<path d="M28.3 102.9H201.6" stroke="#f1f3f9" stroke-width=".5" fill="none"/>
<text x="24.7" y="103.2" font-size="4.1" fill="#8790ba" text-anchor="end">60</text>
<path d="M28.3 129.05H201.6" stroke="#f1f3f9" stroke-width=".5" fill="none"/>
<text x="24.7" y="129.35" font-size="4.1" fill="#8790ba" text-anchor="end">30</text>
<path d="M28.3 155.2H201.6" stroke="#e3e7f3" stroke-width=".5" fill="none"/>
<text x="24.7" y="155.5" font-size="4.1" fill="#8790ba" text-anchor="end">0</text>
<path d="M28.3 50.6V155.2" stroke="#eceff7" stroke-width=".5"/>
<rect x="38.75" y="69.43" width="4.3" height="33.99" fill="#dbe3fb"/>
<rect x="38.75" y="103.42" width="4.3" height="30.86" fill="#fa7f12"/>
<rect x="38.75" y="134.28" width="4.3" height="20.92" fill="#3366ff"/>
<text x="40.9" y="164.9" font-size="4.7" fill="#8b94bd" text-anchor="middle">Sun</text>
<rect x="63.5" y="82.33" width="4.3" height="14.47" fill="#dbe3fb"/>
<rect x="63.5" y="96.8" width="4.3" height="19.79" fill="#fa7f12"/>
<rect x="63.5" y="116.59" width="4.3" height="38.61" fill="#3366ff"/>
<text x="65.65" y="164.9" font-size="4.7" fill="#8b94bd" text-anchor="middle">Mon</text>
<rect x="88.25" y="89.83" width="4.3" height="13.07" fill="#dbe3fb"/>
<rect x="88.25" y="102.9" width="4.3" height="17.43" fill="#fa7f12"/>
<rect x="88.25" y="120.33" width="4.3" height="34.87" fill="#3366ff"/>
<text x="90.4" y="164.9" font-size="4.7" fill="#8b94bd" text-anchor="middle">Tue</text>
<rect x="113" y="77.97" width="4.3" height="12.73" fill="#dbe3fb"/>
<rect x="113" y="90.7" width="4.3" height="7.06" fill="#fa7f12"/>
<rect x="113" y="97.76" width="4.3" height="57.44" fill="#3366ff"/>
<text x="115.15" y="164.9" font-size="4.7" fill="#8b94bd" text-anchor="middle">Wed</text>
<rect x="137.75" y="107" width="4.3" height="18.22" fill="#dbe3fb"/>
<rect x="137.75" y="125.21" width="4.3" height="11.16" fill="#fa7f12"/>
<rect x="137.75" y="136.37" width="4.3" height="18.83" fill="#3366ff"/>
<text x="139.9" y="164.9" font-size="4.7" fill="#8b94bd" text-anchor="middle">Thu</text>
<rect x="162.5" y="83.29" width="4.3" height="11.85" fill="#dbe3fb"/>
<rect x="162.5" y="95.14" width="4.3" height="23.1" fill="#fa7f12"/>
<rect x="162.5" y="118.24" width="4.3" height="36.96" fill="#3366ff"/>
<text x="164.65" y="164.9" font-size="4.7" fill="#8b94bd" text-anchor="middle">Fri</text>
<rect x="187.25" y="96.8" width="4.3" height="9.24" fill="#dbe3fb"/>
<rect x="187.25" y="106.04" width="4.3" height="11.68" fill="#fa7f12"/>
<rect x="187.25" y="117.72" width="4.3" height="37.48" fill="#3366ff"/>
<text x="189.4" y="164.9" font-size="4.7" fill="#8b94bd" text-anchor="middle">Sat</text>
</svg>
<!-- ATTENDANCE -->
<div class="card" id="attend" style="left:9px;top:550.5px;width:329.5px;height:100px"></div>
<span class="t" style="top:565px;font-size:7.51px;color:#263061;-webkit-text-stroke:0.18px #263061;right:471.4px;text-align:right;">Attendance</span>
<i class="bar" style="left:336.8px;top:563.7px"></i>
<div class="ob" style="left:19px;top:560.3px;width:40.1px;height:15.9px"></div>
<svg class="chv" viewBox="0 0 10 10" style="left:25.2px;top:566.3px;stroke:#555b7e"><path d="M1.5 3.5L5 7l3.5-3.5"/></svg>
<span class="t" style="top:567px;font-size:6.09px;color:#4a5278;left:32.3px;">View All</span>
<i class="hl" style="left:9px;top:590.5px;width:329.5px"></i>
<i class="hl" style="left:9px;top:609px;width:329.5px"></i>
<i class="hl" style="left:9px;top:631.5px;width:329.5px"></i>
<span class="t" style="top:598px;font-size:5.85px;color:#263061;-webkit-text-stroke:0.15px #263061;left:-57.1px;width:200px;text-align:center;">Actions</span>
<span class="t" style="top:598px;font-size:5.58px;color:#263061;-webkit-text-stroke:0.15px #263061;left:3.4px;width:200px;text-align:center;">CheckOut</span>
<span class="t" style="top:598px;font-size:5.59px;color:#263061;-webkit-text-stroke:0.15px #263061;left:56.2px;width:200px;text-align:center;">CheckIn</span>
<span class="t" style="top:598px;font-size:5.57px;color:#263061;-webkit-text-stroke:0.15px #263061;left:106.1px;width:200px;text-align:center;">Status</span>
<span class="t" style="top:598px;font-size:5.62px;color:#263061;-webkit-text-stroke:0.15px #263061;right:500.3px;text-align:right;">Employee</span>
<span class="t" style="top:598px;font-size:5.85px;color:#263061;-webkit-text-stroke:0.15px #263061;right:471.8px;text-align:right;">S.No</span>
<div class="ob" style="left:28px;top:614.2px;width:14.3px;height:13.3px"></div>
<svg viewBox="0 0 24 24" style="left:31.9px;top:617.6px;width:6.5px;height:6.5px;fill:none;stroke:#0dcd94;stroke-width:2.4;stroke-linecap:round;stroke-linejoin:round"><path d="M20.5 11.5a8.5 8.5 0 0 1-12.3 7.6L3.5 20.5l1.4-4.7A8.5 8.5 0 1 1 20.5 11.5z"/></svg>
<div class="ob" style="left:44.8px;top:614.2px;width:14.3px;height:13.3px"></div>
<svg viewBox="0 0 24 24" style="left:48.7px;top:617.6px;width:6.5px;height:6.5px;fill:none;stroke:#3366ff;stroke-width:2.4;stroke-linecap:round;stroke-linejoin:round"><path d="M22 16.5v3a2 2 0 0 1-2.2 2 19 19 0 0 1-8.3-3 19 19 0 0 1-6-6A19 19 0 0 1 2.6 4.2 2 2 0 0 1 4.6 2h3a2 2 0 0 1 2 1.7c.1 1 .4 1.9.7 2.8a2 2 0 0 1-.5 2.1L8.5 9.9a16 16 0 0 0 6 6l1.3-1.3a2 2 0 0 1 2.1-.4c.9.3 1.8.6 2.8.7a2 2 0 0 1 1.3 1.6z"/><path d="M15.5 2.5a6.5 6.5 0 0 1 6 6M15.5 6.5a3 3 0 0 1 2.5 2.5"/></svg>
<span class="t" style="top:620px;font-size:5.84px;color:#555b7e;-webkit-text-stroke:0.08px #555b7e;left:90.6px;">Pm 06:30</span>
<span class="t" style="top:620px;font-size:5.84px;color:#555b7e;-webkit-text-stroke:0.08px #555b7e;left:143.6px;">Am 09:30</span>
<i style="left:196.2px;top:617.6px;width:21.2px;height:6.3px;border-radius:1.5px;background:#e0f8ef"></i>
<span class="t" style="top:620px;font-size:4.35px;color:#10b886;-webkit-text-stroke:0.15px #10b886;left:106.3px;width:200px;text-align:center;">Present</span>
<span class="t" style="top:620px;font-size:5.8px;color:#263061;-webkit-text-stroke:0.12px #263061;right:500.3px;text-align:right;">Diane Nolan</span>
<i style="left:315.7px;top:615.2px;width:11.2px;height:11.2px;border-radius:50%;background:#eff3fb"></i>
<span class="t" style="top:620px;font-size:5px;color:#555b7e;-webkit-text-stroke:0.1px #555b7e;left:221.3px;width:200px;text-align:center;">1</span>
<!-- RECENT JOB APPLICATION -->
<div class="card" id="jobs" style="left:348.4px;top:550.5px;width:329.7px;height:100px"></div>
<span class="t" style="top:565px;font-size:7.47px;color:#263061;-webkit-text-stroke:0.18px #263061;right:131.9px;text-align:right;">Recent Job Application</span>
<i class="bar" style="left:676.4px;top:563.6px"></i>
<div class="ob" style="left:358.8px;top:560.5px;width:40.2px;height:15.5px"></div>
<svg class="chv" viewBox="0 0 10 10" style="left:364.8px;top:566.3px;stroke:#555b7e"><path d="M1.5 3.5L5 7l3.5-3.5"/></svg>
<span class="t" style="top:567px;font-size:6.09px;color:#4a5278;left:371.9px;">View All</span>
<i class="hl" style="left:349px;top:600.3px;width:329.5px"></i>
<i style="left:485.2px;top:583.3px;width:62.3px;height:17px;border-radius:3px 3px 0 0;background:#ecf0fa"></i>
<i style="left:553px;top:583.3px;width:49.5px;height:17.6px;border-radius:3px 3px 0 0;background:#fff;border:.5px solid #eef1f9;border-bottom:none"></i>
<i style="left:606.8px;top:583.3px;width:61.3px;height:17px;border-radius:3px 3px 0 0;background:#ecf0fa"></i>
<span class="t" style="top:591px;font-size:5.82px;color:#263061;-webkit-text-stroke:0.15px #263061;left:494px;">Hired Candidates</span>
<span class="t" style="top:591px;font-size:5.78px;color:#263061;-webkit-text-stroke:0.15px #263061;left:560.9px;">Job Opening</span>
<span class="t" style="top:590px;font-size:6.05px;color:#263061;-webkit-text-stroke:0.15px #263061;left:615.2px;">Job Applications</span>
<div class="ob" style="left:355.7px;top:610.9px;width:14.5px;height:14px"></div>
<svg viewBox="0 0 24 24" style="left:359.8px;top:614.7px;width:6.4px;height:6.4px;fill:none;stroke:#f7284a;stroke-width:2.4;stroke-linecap:round;stroke-linejoin:round"><path d="M6 6l12 12M18 6L6 18"/></svg>
<div class="ob" style="left:373.7px;top:610.9px;width:14.5px;height:14px"></div>
<svg viewBox="0 0 24 24" style="left:377.8px;top:614.7px;width:6.4px;height:6.4px;fill:none;stroke:#3366ff;stroke-width:2.4;stroke-linecap:round;stroke-linejoin:round"><circle cx="12" cy="12" r="10.5"/><path d="M9.5 9.5a2.5 2.5 0 1 1 3.5 2.3c-.7.4-1 .9-1 1.7M12 17v.2"/></svg>
<div class="ob" style="left:391.5px;top:610.9px;width:14.5px;height:14px"></div>
<svg viewBox="0 0 24 24" style="left:395.6px;top:614.7px;width:6.4px;height:6.4px;fill:none;stroke:#3366ff;stroke-width:2.4;stroke-linecap:round;stroke-linejoin:round"><path d="M4.5 12.5l5 5L20 7"/></svg>
<span class="t" style="top:617px;font-size:5.3px;color:#555b7e;-webkit-text-stroke:0.08px #555b7e;left:442.8px;">USA</span>
<svg viewBox="0 0 24 24" style="left:457.6px;top:615px;width:5.8px;height:5.8px;fill:none;stroke:#a3abcf;stroke-width:2.2;stroke-linecap:round;stroke-linejoin:round"><path d="M12 22s7-6.5 7-12a7 7 0 0 0-14 0c0 5.5 7 12 7 12z"/><circle cx="12" cy="10" r="2.5"/></svg>
<span class="t" style="top:617px;font-size:5.79px;color:#555b7e;-webkit-text-stroke:0.08px #555b7e;left:484.8px;">vacancies 4</span>
<span class="t" style="top:615px;font-size:5.05px;color:#263061;font-weight:bold;right:159.5px;text-align:right;">UI UX Designers</span>
<span class="t" style="top:623px;font-size:5.01px;color:#a3abcf;right:159.5px;text-align:right;">Dec 2020 12</span>
<i style="left:647.1px;top:606.5px;width:21px;height:21px;border-radius:50%;background:#e3e8f6"></i>
<span class="t" style="top:616px;font-size:4.72px;color:#555b7e;left:557.6px;width:200px;text-align:center;">UI/UX</span>
<i class="hl" style="left:349px;top:632.7px;width:329.5px"></i>
</div>
</body>
</html>
